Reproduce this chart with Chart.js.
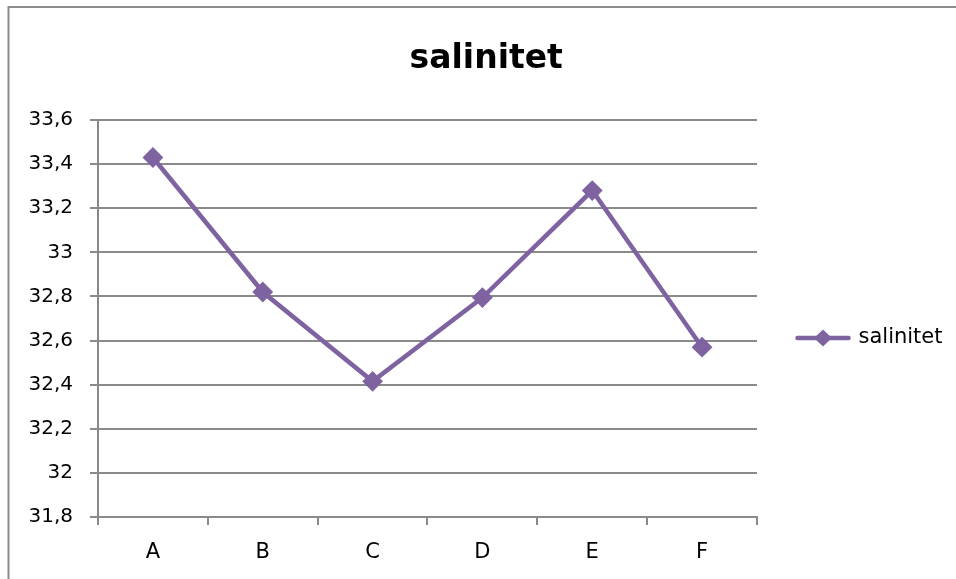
<!DOCTYPE html>
<html><head><meta charset="utf-8">
<script src="https://cdn.jsdelivr.net/npm/chart.js@4"></script>
<style>html,body{margin:0;padding:0;background:#fff;} canvas{display:block;}</style>
</head><body>
<canvas id="c" width="956" height="579"></canvas>
<script>
const categories = ['A', 'B', 'C', 'D', 'E', 'F'];
const salinitet = [33.43, 32.82, 32.415, 32.795, 33.28, 32.57];
const seriesName = 'salinitet';
const chartTitle = 'salinitet';
const yTickValues = [31.8, 32, 32.2, 32.4, 32.6, 32.8, 33, 33.2, 33.4, 33.6];
const yTickLabels = ['31,8', '32', '32,2', '32,4', '32,6', '32,8', '33', '33,2', '33,4', '33,6'];

const PURPLE = '#7F63A1';
const GRID = '#8a8a8a';
const FONT = "'DejaVu Sans', sans-serif";

// legend marker: line with diamond
const mk = document.createElement('canvas');
mk.width = 56; mk.height = 20;
(function () {
  const g = mk.getContext('2d');
  g.strokeStyle = PURPLE; g.lineWidth = 4.5; g.lineCap = 'round';
  g.beginPath(); g.moveTo(2.5, 10); g.lineTo(53.5, 10); g.stroke();
  g.fillStyle = PURPLE;
  g.beginPath(); g.moveTo(28, 1.5); g.lineTo(37, 10); g.lineTo(28, 18.5); g.lineTo(19, 10); g.closePath(); g.fill();
})();

const framePlugin = {
  id: 'frame',
  beforeDraw(chart) {
    const ctx = chart.ctx;
    ctx.save();
    ctx.fillStyle = '#fff';
    ctx.fillRect(0, 0, chart.width, chart.height);
    ctx.strokeStyle = '#8c8c8c';
    ctx.lineWidth = 2;
    ctx.strokeRect(8.5, 7, 1200, 1200);
    ctx.restore();
  },
  afterLayout(chart) {
    const L = chart.legend;
    if (L) { const d = 19.5; L.top += d; L.bottom += d; }
    const T = chart.titleBlock;
    if (T) { const dx = 10; T.left += dx; T.right += dx; }
  }
};

new Chart(document.getElementById('c'), {
  type: 'line',
  data: {
    labels: categories,
    datasets: [{
      label: seriesName,
      data: salinitet,
      borderColor: PURPLE,
      backgroundColor: PURPLE,
      borderWidth: 4.5,
      tension: 0,
      pointStyle: 'rectRot',
      pointRadius: 9,
      pointHoverRadius: 9,
      pointBorderWidth: 2,
      pointBackgroundColor: PURPLE,
      pointBorderColor: PURPLE
    }]
  },
  options: {
    responsive: false,
    animation: false,
    devicePixelRatio: 1,
    layout: { padding: { left: 0, right: 3.5, top: 0, bottom: 0 } },
    plugins: {
      title: {
        display: true,
        text: chartTitle,
        color: '#000',
        font: { family: FONT, size: 33, weight: 'bold' },
        padding: { top: 39.5, bottom: 40.9 }
      },
      legend: {
        position: 'right',
        fullSize: false,
        labels: {
          color: '#000',
          font: { family: FONT, size: 21 },
          usePointStyle: true,
          pointStyleWidth: 50,
          padding: 41,
          generateLabels(chart) {
            return chart.data.datasets.map((ds, i) => ({
              text: ds.label,
              pointStyle: mk,
              fillStyle: PURPLE,
              strokeStyle: PURPLE,
              lineWidth: 0,
              hidden: false,
              datasetIndex: i,
              fontColor: '#000'
            }));
          }
        }
      },
      tooltip: { enabled: false }
    },
    scales: {
      x: {
        type: 'category',
        offset: true,
        grid: { offset: true, drawOnChartArea: false, drawTicks: true, tickLength: 8, color: GRID, lineWidth: 2 },
        border: { display: true, color: GRID, width: 2 },
        ticks: { color: '#000', font: { family: FONT, size: 21 }, padding: 15, maxRotation: 0 },
        afterFit(s) { s.height = 62; }
      },
      y: {
        min: 31.8,
        max: 33.6,
        grid: { color: GRID, lineWidth: 2, tickLength: 8, drawTicks: true },
        border: { display: true, color: GRID, width: 2 },
        ticks: {
          color: '#000',
          font: { family: FONT, size: 20 },
          padding: 17,
          callback: (v, i) => yTickLabels[i]
        },
        afterBuildTicks(s) { s.ticks = yTickValues.map(v => ({ value: v })); },
        afterFit(s) { s.width = 98; }
      }
    }
  },
  plugins: [framePlugin]
});
</script>
</body></html>
